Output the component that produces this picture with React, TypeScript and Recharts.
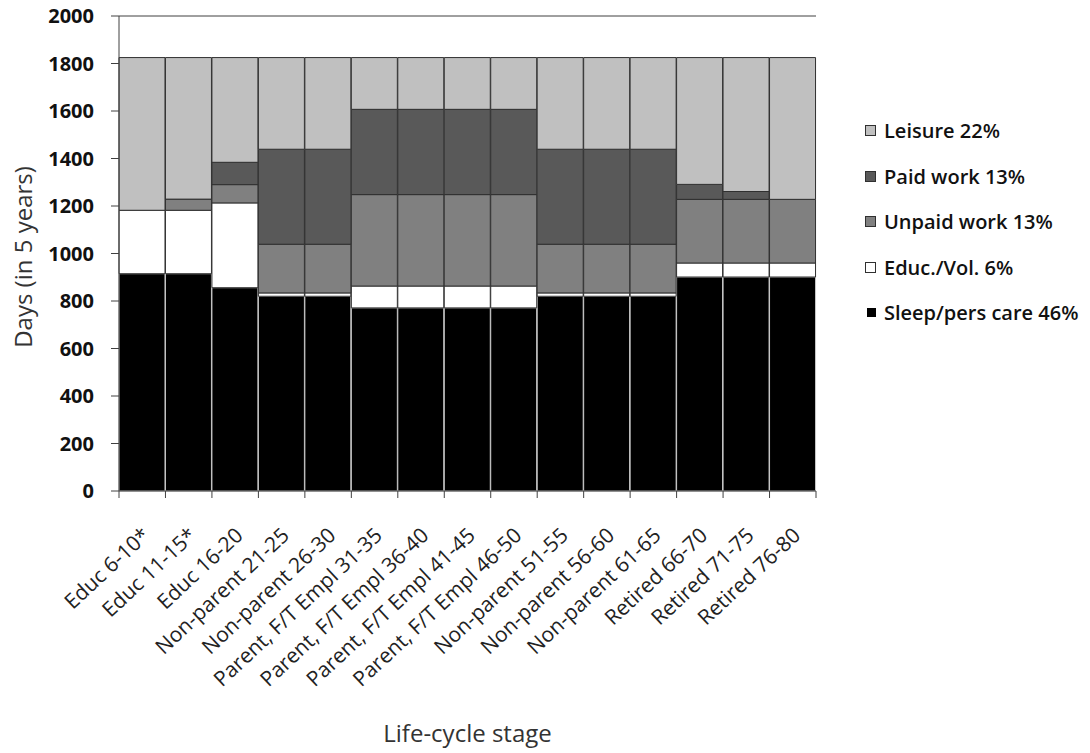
import React from "react";
import { BarChart, Bar, XAxis, YAxis, ReferenceLine, Legend } from "recharts";

const CATEGORIES = [
  "Educ 6-10*",
  "Educ 11-15*",
  "Educ 16-20",
  "Non-parent 21-25",
  "Non-parent 26-30",
  "Parent, F/T Empl 31-35",
  "Parent, F/T Empl 36-40",
  "Parent, F/T Empl 41-45",
  "Parent, F/T Empl 46-50",
  "Non-parent 51-55",
  "Non-parent 56-60",
  "Non-parent 61-65",
  "Retired 66-70",
  "Retired 71-75",
  "Retired 76-80",
];

const SLEEP = [915, 915, 856, 820, 820, 771, 771, 771, 771, 820, 820, 820, 901, 901, 901];
const EDUC = [267, 267, 357, 14, 14, 92, 92, 92, 92, 14, 14, 14, 59, 59, 59];
const UNPAID = [0, 47, 77, 205, 205, 385, 385, 385, 385, 205, 205, 205, 268, 268, 268];
const PAID = [0, 0, 94, 400, 400, 359, 359, 359, 359, 400, 400, 400, 63, 33, 0];
const LEISURE = [643, 596, 441, 386, 386, 218, 218, 218, 218, 386, 386, 386, 534, 564, 597];

const Y_TICKS = [0, 200, 400, 600, 800, 1000, 1200, 1400, 1600, 1800, 2000];

const SERIES = [
  { key: "sleep", label: "Sleep/pers care 46%", fill: "#000000", stroke: "#c8c8c8", swatch: 9 },
  { key: "educ", label: "Educ./Vol. 6%", fill: "#ffffff", stroke: "#303030", swatch: 11 },
  { key: "unpaid", label: "Unpaid work 13%", fill: "#808080", stroke: "#303030", swatch: 11 },
  { key: "paid", label: "Paid work 13%", fill: "#595959", stroke: "#303030", swatch: 11 },
  { key: "leisure", label: "Leisure 22%", fill: "#c0c0c0", stroke: "#303030", swatch: 11 },
];

const data = CATEGORIES.map((name, i) => ({
  name,
  sleep: SLEEP[i],
  educ: EDUC[i],
  unpaid: UNPAID[i],
  paid: PAID[i],
  leisure: LEISURE[i],
}));

const CHART_W = 1074;
const CHART_H = 753;
const MARGIN = { top: 16, right: 266, bottom: 0, left: 0 };
const Y_AXIS_W = 111;
const X_AXIS_H = 262;
const PLOT_W = CHART_W - MARGIN.left - MARGIN.right - Y_AXIS_W;
const BAND = PLOT_W / CATEGORIES.length;
const AXIS_COLOR = "#404040";
const FONT = "'Open Sans', 'Noto Sans', sans-serif";

const XTick = (props: any) => {
  const { x, y, payload, index } = props;
  const last = index === CATEGORIES.length - 1;
  return (
    <g>
      <line x1={x - BAND / 2} y1={y} x2={x - BAND / 2} y2={y + 7} stroke={AXIS_COLOR} strokeWidth={1} />
      {last && <line x1={x + BAND / 2} y1={y} x2={x + BAND / 2} y2={y + 7} stroke={AXIS_COLOR} strokeWidth={1} />}
      <text
        x={0}
        y={0}
        transform={`translate(${x + 9},${y + 46}) rotate(-43)`}
        textAnchor="end"
        fontFamily={FONT}
        fontSize={21}
        fill="#222"
      >
        {payload.value}
      </text>
    </g>
  );
};

const renderLegend = () => {
  const rows = [...SERIES].reverse();
  return (
    <div style={{ fontFamily: FONT }}>
      {rows.map((s) => (
        <div key={s.key} style={{ height: 45.5, display: "flex", alignItems: "center", position: "relative" }}>
          <div
            style={{
              position: "absolute",
              left: s.swatch === 11 ? 0 : 1.5,
              width: s.swatch,
              height: s.swatch,
              background: s.fill,
              border: s.key === "sleep" ? "none" : "1px solid #303030",
              boxSizing: "border-box",
            }}
          />
          <span style={{ marginLeft: 19, fontSize: 20, fontWeight: 600, color: "#111", whiteSpace: "nowrap" }}>
            {s.label}
          </span>
        </div>
      ))}
    </div>
  );
};

export default function App() {
  return (
    <div style={{ position: "relative", width: CHART_W, height: CHART_H, marginTop: -8 }}>
      <BarChart width={CHART_W} height={CHART_H} data={data} margin={MARGIN} barCategoryGap={0} barGap={0}>
        {SERIES.map((s) => (
          <Bar
            key={s.key}
            dataKey={s.key}
            stackId="a"
            fill={s.fill}
            stroke={s.stroke}
            strokeWidth={1}
            isAnimationActive={false}
          />
        ))}
        <ReferenceLine y={2000} stroke={AXIS_COLOR} strokeWidth={1} />
        <XAxis
          dataKey="name"
          height={X_AXIS_H}
          interval={0}
          tickLine={false}
          tickSize={0}
          tickMargin={0}
          axisLine={{ stroke: AXIS_COLOR, strokeWidth: 1 }}
          tick={<XTick />}
          label={{
            value: "Life-cycle stage",
            position: "insideBottom",
            offset: 11,
            style: { fontFamily: FONT, fontSize: 24, fill: "#333" },
          }}
        />
        <YAxis
          width={Y_AXIS_W}
          domain={[0, 2000]}
          ticks={Y_TICKS}
          interval={0}
          tickSize={8}
          tickMargin={17}
          axisLine={{ stroke: AXIS_COLOR, strokeWidth: 1 }}
          tickLine={{ stroke: AXIS_COLOR, strokeWidth: 1 }}
          tick={{ fontFamily: FONT, fontSize: 20, fontWeight: 700, fill: "#111" }}
        />
        <YAxis
          yAxisId="frame"
          orientation="right"
          width={0}
          domain={[0, 2000]}
          tick={false}
          tickLine={false}
          axisLine={{ stroke: AXIS_COLOR, strokeWidth: 1 }}
        />
        <Legend
          layout="horizontal"
          verticalAlign="middle"
          align="center"
          content={renderLegend}
          wrapperStyle={{ left: 857, top: 108, width: 230, height: 230 }}
        />
      </BarChart>
      <div
        style={{
          position: "absolute",
          left: 15,
          top: 257,
          transform: "translate(-50%, -50%) rotate(-90deg)",
          fontFamily: FONT,
          fontSize: 24,
          lineHeight: "24px",
          color: "#333",
          whiteSpace: "nowrap",
        }}
      >
        Days (in 5 years)
      </div>
    </div>
  );
}
